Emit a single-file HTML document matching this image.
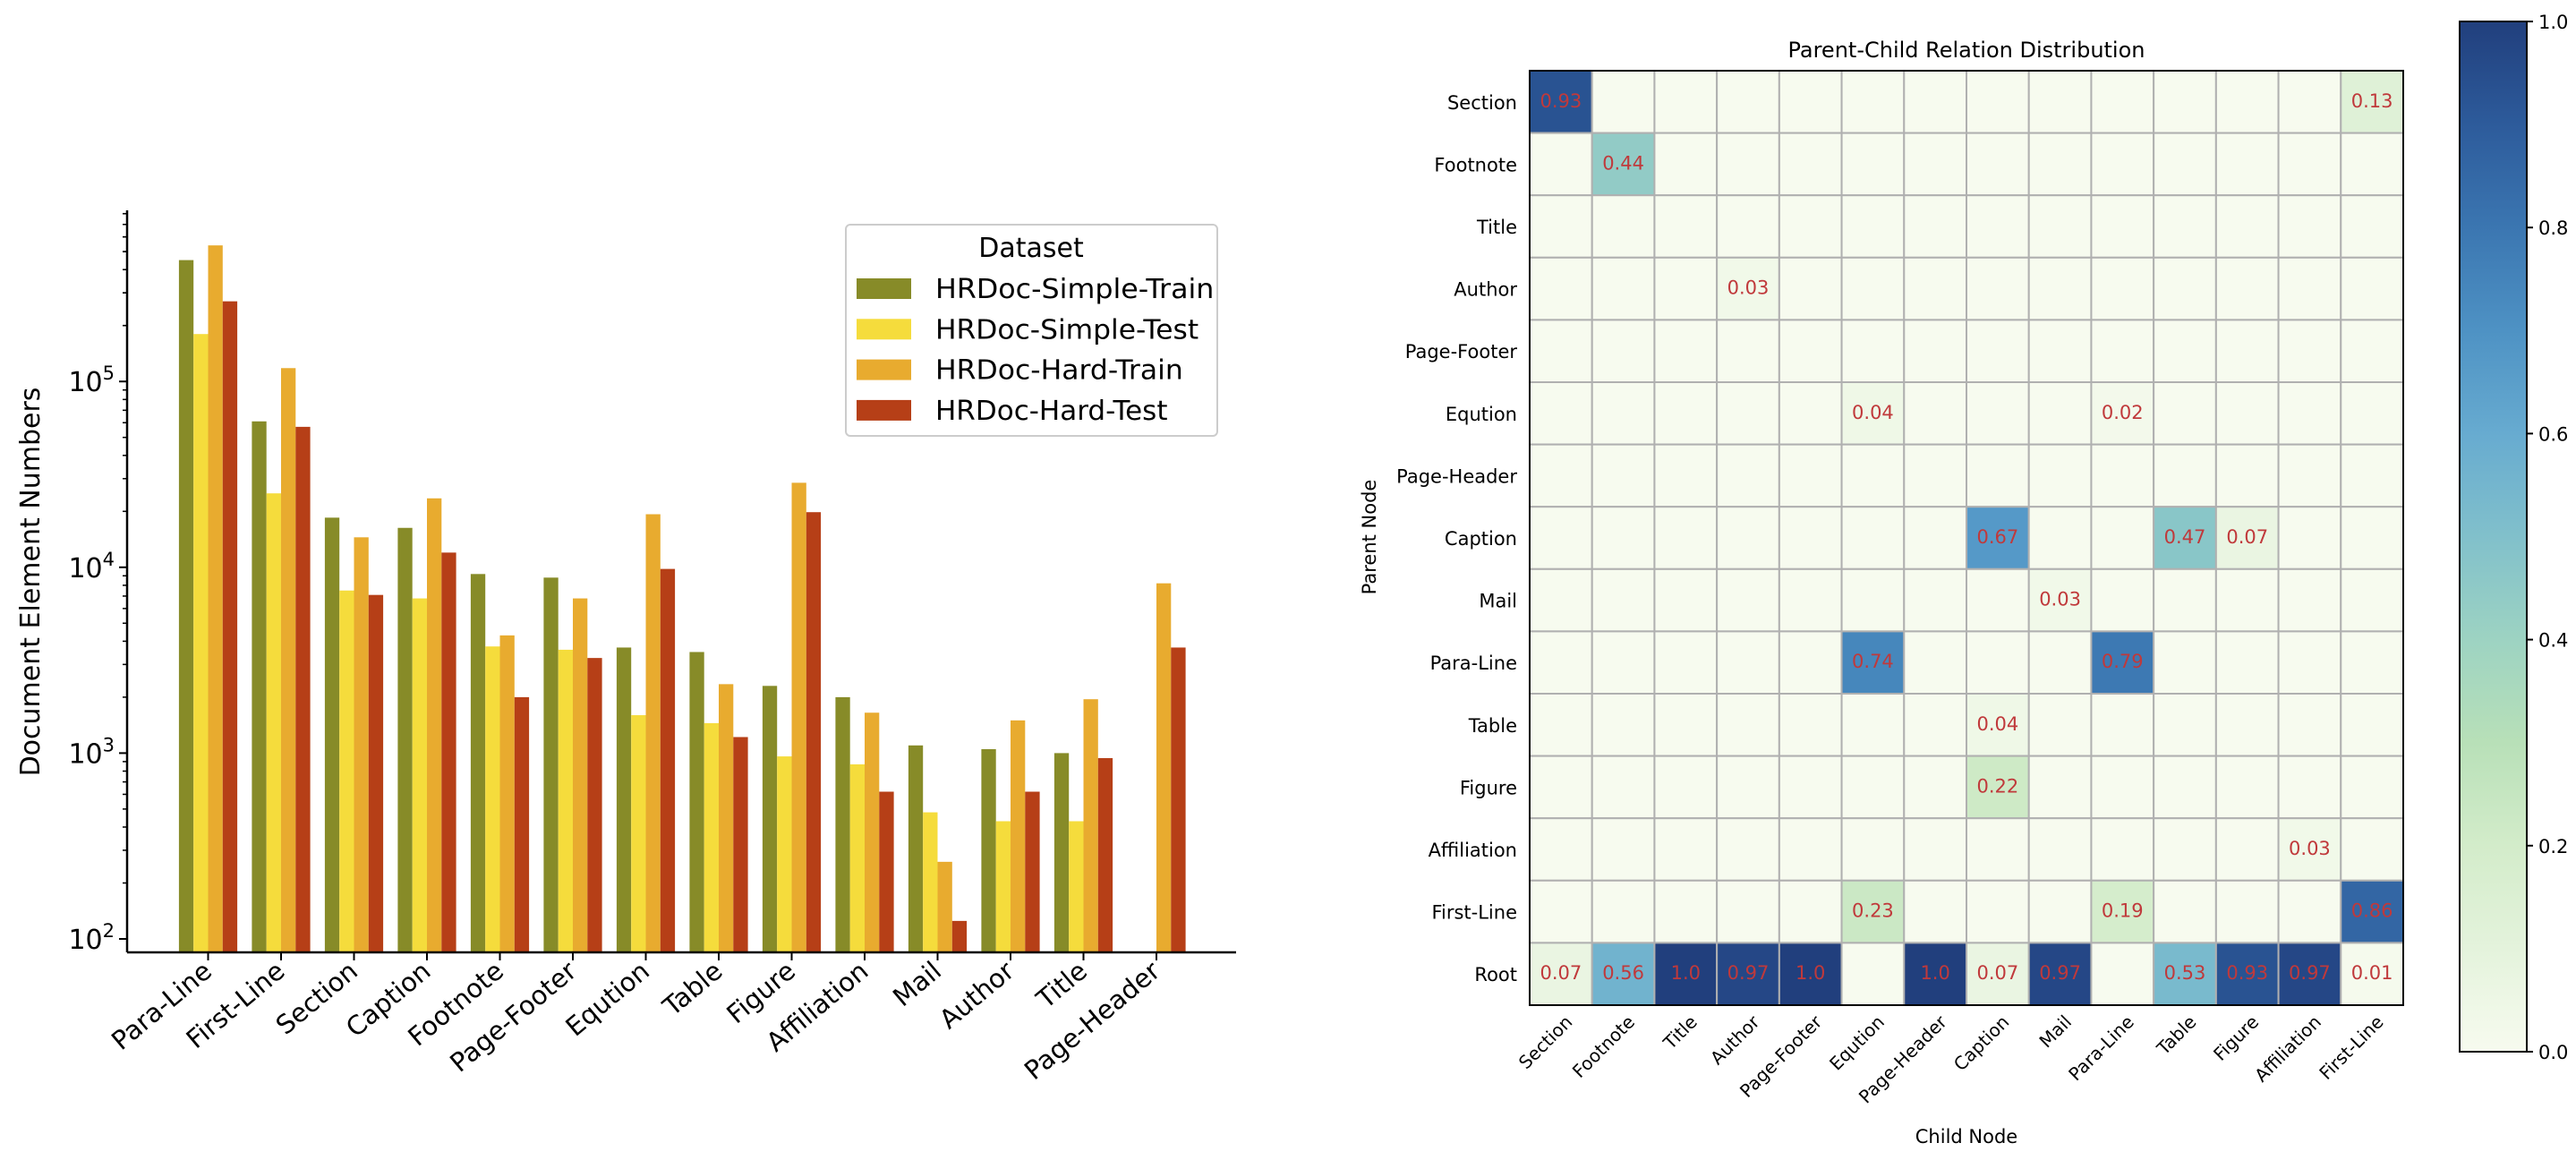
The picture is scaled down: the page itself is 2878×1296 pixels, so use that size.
<!DOCTYPE html>
<html><head><meta charset="utf-8"><style>
body{margin:0;background:#fff}
svg{display:block;font-family:"DejaVu Sans","Liberation Sans",sans-serif}
</style></head><body>
<svg id="c" width="2878" height="1296"></svg>
<script>
const categories=["Para-Line","First-Line","Section","Caption","Footnote","Page-Footer","Eqution","Table","Figure","Affiliation","Mail","Author","Title","Page-Header"];
const seriesNames=["HRDoc-Simple-Train","HRDoc-Simple-Test","HRDoc-Hard-Train","HRDoc-Hard-Test"];
const simpleTrain=[450000,61000,18500,16300,9200,8800,3700,3500,2300,2000,1100,1050,1000,0];
const simpleTest=[180000,25000,7500,6800,3750,3600,1600,1450,960,870,480,430,430,0];
const hardTrain=[540000,118000,14500,23500,4300,6800,19300,2350,28500,1650,260,1500,1950,8200];
const hardTest=[270000,57000,7100,12000,2000,3250,9800,1220,19800,620,125,620,940,3700];
const yTicks=[2,3,4,5];
const heatRows=["Section","Footnote","Title","Author","Page-Footer","Eqution","Page-Header","Caption","Mail","Para-Line","Table","Figure","Affiliation","First-Line","Root"];
const heatCols=["Section","Footnote","Title","Author","Page-Footer","Eqution","Page-Header","Caption","Mail","Para-Line","Table","Figure","Affiliation","First-Line"];
const heatVals=[
[0.93,null,null,null,null,null,null,null,null,null,null,null,null,0.13],
[null,0.44,null,null,null,null,null,null,null,null,null,null,null,null],
[null,null,null,null,null,null,null,null,null,null,null,null,null,null],
[null,null,null,0.03,null,null,null,null,null,null,null,null,null,null],
[null,null,null,null,null,null,null,null,null,null,null,null,null,null],
[null,null,null,null,null,0.04,null,null,null,0.02,null,null,null,null],
[null,null,null,null,null,null,null,null,null,null,null,null,null,null],
[null,null,null,null,null,null,null,0.67,null,null,0.47,0.07,null,null],
[null,null,null,null,null,null,null,null,0.03,null,null,null,null,null],
[null,null,null,null,null,0.74,null,null,null,0.79,null,null,null,null],
[null,null,null,null,null,null,null,0.04,null,null,null,null,null,null],
[null,null,null,null,null,null,null,0.22,null,null,null,null,null,null],
[null,null,null,null,null,null,null,null,null,null,null,null,0.03,null],
[null,null,null,null,null,0.23,null,null,null,0.19,null,null,null,0.86],
[0.07,0.56,1.0,0.97,1.0,null,1.0,0.07,0.97,null,0.53,0.93,0.97,0.01]];
const cbTicks=[0,0.2,0.4,0.6,0.8,1.0];

const S=document.getElementById('c');const NS="http://www.w3.org/2000/svg";
function el(t,a,txt){const e=document.createElementNS(NS,t);for(const k in a)e.setAttribute(k,a[k]);if(txt!=null)e.textContent=txt;S.appendChild(e);return e;}

// ---- bar chart ----
const L=142,R=1381,B=1064,T=235,dec=207.6;
const logBottom=2-(B-1049)/dec;
const y=v=>B-(Math.log10(v)-logBottom)*dec;
const x0=232.5,step=81.5,bw=16.3;
const xc=i=>x0+i*step;
const colors=["#878b28","#f5dc3c","#e8ab2f","#b63f17"];
const series=[simpleTrain,simpleTest,hardTrain,hardTest];
series.forEach((s,si)=>{s.forEach((v,i)=>{if(!v)return;
 const r=el('rect',{x:xc(i)-2*bw+si*bw,y:y(v),width:bw,height:B-y(v),fill:colors[si]});
 
 });});
el('line',{x1:L,y1:T,x2:L,y2:B,stroke:'#000','stroke-width':2.5,});
el('line',{x1:L,y1:B,x2:R,y2:B,stroke:'#000','stroke-width':2.5,});
yTicks.forEach(p=>{const yy=y(Math.pow(10,p));
 el('line',{x1:L-9,y1:yy,x2:L,y2:yy,stroke:'#000','stroke-width':2});
 const t=el('text',{x:L-14,y:yy+11,'text-anchor':'end','font-size':30});
 
 t.innerHTML='10<tspan dy="-13" font-size="21">'+p+'</tspan>';
 for(let m=2;m<10;m++){const ym=y(m*Math.pow(10,p));if(ym>=T&&ym<=B)el('line',{x1:L-5,y1:ym,x2:L,y2:ym,stroke:'#000','stroke-width':1.5});}
});
for(let m=2;m<10;m++){const ym=y(m*1e5);if(ym>=T)el('line',{x1:L-5,y1:ym,x2:L,y2:ym,stroke:'#000','stroke-width':1.5});}
categories.forEach((c,i)=>{
 el('line',{x1:xc(i),y1:B,x2:xc(i),y2:B+9,stroke:'#000','stroke-width':2});
 const t=el('text',{x:xc(i)+6,y:B+24,'text-anchor':'end','font-size':29,transform:`rotate(-40 ${xc(i)+6} ${B+24})`},c);
 
});
el('text',{x:44,y:650,'text-anchor':'middle','font-size':30,transform:'rotate(-90 44 650)',},'Document Element Numbers');
el('rect',{x:945,y:251,width:415,height:236,rx:5,fill:'#fff',stroke:'#ccc','stroke-width':2,});
el('text',{x:1152,y:287,'text-anchor':'middle','font-size':30,},'Dataset');
seriesNames.forEach((n,i)=>{const yy=322+i*45.3;
 const r=el('rect',{x:957,y:yy-11,width:61,height:23,fill:colors[i]});
 
 const t=el('text',{x:1045,y:yy+11,'font-size':30,textLength:n.length*17.3,lengthAdjust:'spacingAndGlyphs'},n);
 });

// ---- heatmap ----
const HL=1709,HR=2685,HT=79,HB=1123;
const cw=(HR-HL)/heatCols.length,ch=(HB-HT)/heatRows.length;
const stops=[[0,"#f7fbef"],[0.1,"#e4f3dc"],[0.2,"#d3ecca"],[0.3,"#b8e0b8"],[0.4,"#9dd3c2"],[0.5,"#81c0cb"],[0.6,"#67abd0"],[0.7,"#4e92c4"],[0.8,"#3b76b1"],[0.9,"#2d5b9b"],[1,"#213f7d"]];
function hex(h){return [1,3,5].map(k=>parseInt(h.substr(k,2),16));}
function cmap(v){for(let i=1;i<stops.length;i++){if(v<=stops[i][0]){const a=stops[i-1],b=stops[i];const f=(v-a[0])/(b[0]-a[0]);const A=hex(a[1]),Bc=hex(b[1]);return 'rgb('+A.map((q,k)=>Math.round(q+(Bc[k]-q)*f)).join(',')+')';}}return stops[stops.length-1][1];}
heatRows.forEach((r,ri)=>heatCols.forEach((c,ci)=>{const v=heatVals[ri][ci];
 const cell=el('rect',{x:HL+ci*cw,y:HT+ri*ch,width:cw,height:ch,fill:cmap(v||0),stroke:'#b0b0b0','stroke-width':2});
 
 if(v!=null){const t=el('text',{x:HL+ci*cw+cw/2,y:HT+ri*ch+ch/2+6,'text-anchor':'middle','font-size':21,fill:'#c0393b'},v===1?'1.0':String(v));
  }
}));
el('rect',{x:HL,y:HT,width:HR-HL,height:HB-HT,fill:'none',stroke:'#000','stroke-width':2,});
heatRows.forEach((r,ri)=>{const t=el('text',{x:HL-14,y:HT+ri*ch+ch/2+8,'text-anchor':'end','font-size':21},r);
 });
heatCols.forEach((c,ci)=>{const cx=HL+ci*cw+cw/2+14,cy=HB+20;
 const t=el('text',{x:cx,y:cy,'text-anchor':'end','font-size':20,transform:`rotate(-45 ${cx} ${cy})`},c);
 });
el('text',{x:(HL+HR)/2,y:64,'text-anchor':'middle','font-size':24,},'Parent-Child Relation Distribution');
el('text',{x:(HL+HR)/2,y:1277,'text-anchor':'middle','font-size':21,},'Child Node');
el('text',{x:1537,y:600,'text-anchor':'middle','font-size':21,transform:'rotate(-90 1537 600)',},'Parent Node');
// colorbar
const CL=2748,CR=2823,CT=24,CB=1175;
const defs=el('defs',{});const g=document.createElementNS(NS,'linearGradient');g.setAttribute('id','cg');g.setAttribute('x1','0');g.setAttribute('y1','1');g.setAttribute('x2','0');g.setAttribute('y2','0');defs.appendChild(g);
stops.forEach(s=>{const st=document.createElementNS(NS,'stop');st.setAttribute('offset',s[0]);st.setAttribute('stop-color',s[1]);g.appendChild(st);});
el('rect',{x:CL,y:CT,width:CR-CL,height:CB-CT,fill:'url(#cg)',stroke:'#000','stroke-width':2,});
cbTicks.forEach(v=>{const yy=CB-v*(CB-CT);
 el('line',{x1:CR,y1:yy,x2:CR+7,y2:yy,stroke:'#000','stroke-width':2});
 const t=el('text',{x:CR+13,y:yy+8,'font-size':21},v.toFixed(1));
 });
</script>
</body></html>
